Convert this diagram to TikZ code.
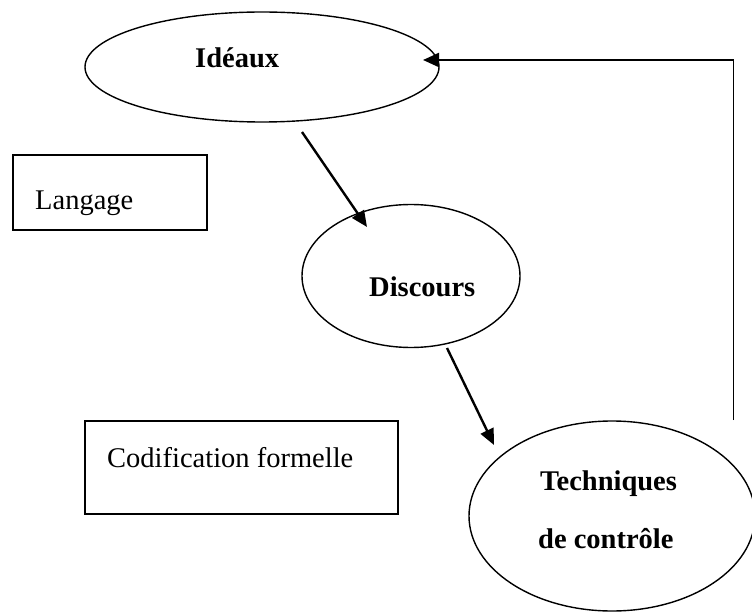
\documentclass[tikz,border=0pt]{standalone}
\usepackage{fontspec}
\setmainfont{Liberation Serif}
\usetikzlibrary{shapes.geometric,arrows.meta}
\tikzset{
  ell/.style={draw, ellipse, line width=1.4pt, inner sep=0pt},
  box/.style={draw, rectangle, line width=1.8pt, inner sep=0pt},
  lbl/.style={anchor=base west, inner sep=0pt, font=\fontsize{28.5}{34}\selectfont},
  blbl/.style={lbl, font=\fontsize{28.5}{34}\selectfont\bfseries},
  arr/.style={line width=2.4pt, -{Triangle[length=16pt,width=14pt]}},
}
\begin{document}
\begin{tikzpicture}[x=1pt,y=-1pt]
\useasboundingbox (0,0) rectangle (752,612);
% ellipses
\node[ell, minimum width=354, minimum height=110] (ideaux) at (262,67) {};
\node[ell, minimum width=218, minimum height=143] (discours) at (411,276) {};
\node[ell, minimum width=286, minimum height=190] (tech) at (612,516) {};
% boxes
\node[box, minimum width=194, minimum height=75] (langage) at (110,192.5) {};
\node[box, minimum width=313, minimum height=93] (codif) at (241.5,467.5) {};
% texts
\node[blbl] (ideauxtxt) at (195,68) {Idéaux};
\node[blbl] (discourstxt) at (369,297) {Discours};
\node[blbl] (techtxt1) at (540,490) {Techniques};
\node[blbl] (techtxt2) at (538,548) {de contrôle};
\node[lbl] (langagetxt) at (35,210) {Langage};
\node[lbl] (codiftxt) at (107,467) {Codification formelle};
% connectors
\coordinate (a1s) at (302,132);
\coordinate (a1e) at (367,227);
\coordinate (a2s) at (447,348);
\coordinate (a2e) at (494,445);
\draw[arr] (a1s) -- (a1e);
\draw[arr] (a2s) -- (a2e);
\coordinate (fbs) at (733,420);
\coordinate (fbc) at (733,60);
\coordinate (fbt) at (423,60);
\draw[line width=1pt] (fbs) -- (fbc);
\draw[line width=2.2pt, -{Triangle[length=16pt,width=14pt]}] ([xshift=0.5pt]fbc) -- (fbt);
\end{tikzpicture}
\end{document}
